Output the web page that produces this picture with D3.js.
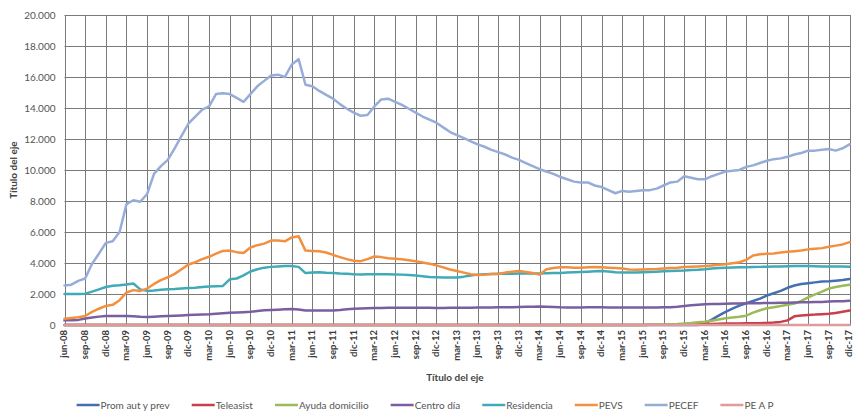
<!DOCTYPE html>
<html><head><meta charset="utf-8">
<script src="https://cdn.jsdelivr.net/npm/d3@7"></script>
<style>
html,body{margin:0;padding:0;background:#fff;}
svg{display:block;font-family:Lato,"Open Sans",sans-serif;}
</style></head>
<body><svg id="chart" width="854" height="412"></svg>
<script>
const categories = [
"jun-08","jul-08","ago-08","sep-08","oct-08","nov-08","dic-08",
"ene-09","feb-09","mar-09","abr-09","may-09","jun-09","jul-09","ago-09","sep-09","oct-09","nov-09","dic-09",
"ene-10","feb-10","mar-10","abr-10","may-10","jun-10","jul-10","ago-10","sep-10","oct-10","nov-10","dic-10",
"ene-11","feb-11","mar-11","abr-11","may-11","jun-11","jul-11","ago-11","sep-11","oct-11","nov-11","dic-11",
"ene-12","feb-12","mar-12","abr-12","may-12","jun-12","jul-12","ago-12","sep-12","oct-12","nov-12","dic-12",
"ene-13","feb-13","mar-13","abr-13","may-13","jun-13","jul-13","ago-13","sep-13","oct-13","nov-13","dic-13",
"ene-14","feb-14","mar-14","abr-14","may-14","jun-14","jul-14","ago-14","sep-14","oct-14","nov-14","dic-14",
"ene-15","feb-15","mar-15","abr-15","may-15","jun-15","jul-15","ago-15","sep-15","oct-15","nov-15","dic-15",
"ene-16","feb-16","mar-16","abr-16","may-16","jun-16","jul-16","ago-16","sep-16","oct-16","nov-16","dic-16",
"ene-17","feb-17","mar-17","abr-17","may-17","jun-17","jul-17","ago-17","sep-17","oct-17","nov-17","dic-17"];

const tickLabels = ["jun-08","sep-08","dic-08","mar-09","jun-09","sep-09","dic-09","mar-10","jun-10","sep-10","dic-10",
"mar-11","jun-11","sep-11","dic-11","mar-12","jun-12","sep-12","dic-12","mar-13","jun-13","sep-13","dic-13",
"mar-14","jun-14","sep-14","dic-14","mar-15","jun-15","sep-15","dic-15","mar-16","jun-16","sep-16","dic-16",
"mar-17","jun-17","sep-17","dic-17"];

const yTicks = [0,2000,4000,6000,8000,10000,12000,14000,16000,18000,20000];

const seriesNames = ["Prom aut y prev","Teleasist","Ayuda domicilio","Centro día","Residencia","PEVS","PECEF","PE A P"];

const promAutYPrev = [
0,0,0,0,0,0,0,0,0,0, 0,0,0,0,0,0,0,0,0,0, 0,0,0,0,0,0,0,0,0,0, 0,0,0,0,0,0,0,0,0,0,
0,0,0,0,0,0,0,0,0,0, 0,0,0,0,0,0,0,0,0,0, 0,0,0,0,0,0,0,0,0,0, 0,0,0,0,0,0,0,0,0,0,
0,0,0,0,0,0,0,0,0,0,
0,0,0,100,350,600,850,1050,1250,1400,
1550,1700,1900,2050,2200,2400,2550,2650,2700,2750,
2800,2820,2860,2900,2970];

const teleasist = [
0,0,0,0,0,0,0,0,0,0, 0,0,0,0,0,0,0,0,0,0, 0,0,0,0,0,0,0,0,0,0, 0,0,0,0,0,0,0,0,0,0,
0,0,0,0,0,0,0,0,0,0, 0,0,0,0,0,0,0,0,0,0, 0,0,0,0,0,0,0,0,0,0, 0,0,0,0,0,0,0,0,0,0,
0,0,0,0,0,10,20,20,30,30,
40,40,50,60,70,80,90,100,100,110,
120,120,130,160,200,300,560,620,650,670,
700,720,780,850,930];

const ayudaDomicilio = [
0,0,0,0,0,0,0,0,0,0, 0,0,0,0,0,0,0,0,0,0, 0,0,0,0,0,0,0,0,0,0, 0,0,0,0,0,0,0,0,0,0,
0,0,0,0,0,0,0,0,0,0, 0,0,0,0,0,0,0,0,0,0, 0,0,0,0,0,0,0,0,0,0, 0,0,0,0,0,0,0,0,0,0,
0,0,0,0,0,20,30,40,50,70,
100,130,170,210,280,350,430,480,530,600,
800,950,1080,1150,1230,1300,1380,1550,1780,1980,
2150,2350,2450,2530,2600];

const centroDia = [
300,310,330,420,480,540,580,580,580,580,
570,540,520,540,560,580,600,620,640,660,
680,700,730,760,790,810,830,850,900,950,
970,990,1010,1030,1000,940,930,930,930,940,
970,1020,1050,1070,1080,1090,1100,1110,1120,1120,
1120,1120,1120,1110,1100,1100,1110,1120,1120,1120,
1130,1130,1130,1140,1140,1150,1160,1170,1180,1190,
1180,1160,1140,1130,1130,1130,1140,1150,1140,1130,
1130,1130,1130,1130,1130,1130,1130,1140,1150,1170,
1220,1270,1310,1340,1350,1360,1370,1380,1390,1400,
1410,1410,1420,1420,1430,1440,1450,1460,1470,1480,
1490,1510,1530,1540,1560];

const residencia = [
2000,2000,2000,2020,2150,2300,2450,2530,2560,2620,
2680,2300,2200,2230,2270,2300,2320,2350,2380,2400,
2450,2480,2500,2520,2950,3000,3200,3450,3600,3700,
3750,3780,3800,3800,3750,3350,3380,3400,3370,3350,
3320,3300,3270,3260,3270,3270,3280,3270,3260,3250,
3230,3200,3150,3100,3080,3060,3060,3070,3120,3200,
3250,3270,3290,3300,3300,3310,3320,3320,3330,3330,
3340,3350,3360,3380,3400,3420,3440,3460,3480,3450,
3400,3380,3380,3380,3400,3420,3440,3460,3480,3500,
3520,3550,3570,3600,3640,3670,3700,3710,3720,3730,
3740,3750,3760,3770,3780,3790,3800,3800,3800,3790,
3780,3780,3770,3770,3760];

const pevs = [
400,450,500,580,850,1050,1230,1300,1600,2100,
2250,2200,2350,2650,2900,3080,3300,3600,3900,4050,
4250,4400,4600,4780,4800,4700,4650,5000,5150,5250,
5450,5450,5400,5650,5720,4800,4780,4760,4680,4520,
4380,4250,4150,4120,4250,4420,4380,4300,4270,4240,
4180,4120,4030,3950,3850,3720,3580,3480,3380,3280,
3220,3250,3290,3290,3380,3430,3480,3420,3350,3250,
3600,3680,3720,3720,3700,3700,3720,3740,3720,3700,
3680,3650,3580,3560,3580,3600,3620,3650,3680,3700,
3740,3760,3780,3800,3840,3880,3920,3980,4050,4200,
4480,4560,4600,4620,4680,4720,4760,4800,4880,4920,
4960,5050,5120,5200,5350];

const pecef = [
2550,2600,2850,3000,3950,4600,5300,5400,6000,7800,
8050,7950,8450,9750,10250,10650,11400,12200,13000,13450,
13900,14100,14900,14950,14900,14650,14400,14900,15400,15750,
16100,16150,16000,16800,17150,15500,15400,15100,14850,14600,
14250,13950,13700,13500,13550,14100,14550,14600,14400,14200,
13950,13700,13450,13250,13050,12750,12450,12250,12050,11850,
11650,11500,11300,11150,11000,10800,10650,10450,10250,10050,
9900,9750,9550,9400,9250,9200,9200,9000,8900,8700,
8500,8650,8600,8650,8700,8700,8800,9000,9200,9250,
9600,9500,9400,9400,9600,9750,9900,9950,10000,10200,
10300,10450,10600,10700,10750,10850,11000,11100,11250,11250,
11300,11350,11250,11400,11650];

const peAP = [
0,0,0,0,0,0,0,0,0,0, 0,0,0,0,0,0,0,0,0,0, 0,0,0,0,0,0,0,0,0,0, 0,0,0,0,0,0,0,0,0,0,
0,0,0,0,0,0,0,0,0,0, 0,0,0,0,0,0,0,0,0,0, 0,0,0,0,0,0,0,0,0,0, 0,0,0,0,0,0,0,0,0,0,
0,0,0,0,0,0,0,0,0,0, 0,0,0,0,0,0,0,0,0,0, 0,0,0,0,0,0,0,0,0,0,
0,0,0,0,0];

const colors = ["#4470B0","#C8404A","#9BBB59","#7A5FA0","#40AAB8","#F3903F","#97ADD8","#DE9A9C"];
const seriesValues = [promAutYPrev, teleasist, ayudaDomicilio, centroDia, residencia, pevs, pecef, peAP];

const svg = d3.select("#chart");
const L = 64.5, R = 849.5, T = 15, B = 325;
const x = d3.scalePoint().domain(categories).range([L, R]);
const y = d3.scaleLinear().domain([0, 20000]).range([B, T]);
const loc = d3.formatLocale({decimal: ",", thousands: ".", grouping: [3], currency: ["", "€"]});
const fmt = loc.format(",.0f");

// gridlines
const grid = svg.append("g");
grid.selectAll("line.h").data(yTicks).join("line")
  .attr("x1", L).attr("x2", R + 1).attr("y1", d => Math.round(y(d)) + 0.5).attr("y2", d => Math.round(y(d)) + 0.5)
  .attr("stroke", "#7a7a7a").attr("stroke-width", 1);
grid.selectAll("line.v").data(tickLabels).join("line")
  .attr("x1", d => Math.round(x(d)) + 0.5).attr("x2", d => Math.round(x(d)) + 0.5)
  .attr("y1", T).attr("y2", B)
  .attr("stroke", "#7a7a7a").attr("stroke-width", 1);

// y axis
const yAxis = svg.append("g").attr("transform", `translate(${L},0)`)
  .call(d3.axisLeft(y).tickValues(yTicks).tickFormat(fmt).tickSize(0).tickPadding(9));
yAxis.select(".domain").remove();
yAxis.selectAll("text").attr("font-size", "10px").attr("fill", "#555").attr("font-family", "Lato, sans-serif");

// x axis
const xAxis = svg.append("g").attr("transform", `translate(0,${B})`)
  .call(d3.axisBottom(x).tickValues(tickLabels).tickSize(0));
xAxis.select(".domain").remove();
xAxis.selectAll("text")
  .attr("transform", "rotate(-90)")
  .attr("x", -5).attr("y", -1).attr("dy", "0.35em")
  .style("text-anchor", "end")
  .attr("font-size", "9.5px").attr("font-weight", "bold").attr("fill", "#3a3a3a")
  .attr("font-family", "Lato, sans-serif");

// lines
const line = d3.line().x((d, i) => x(categories[i])).y(d => y(d));
svg.append("g").selectAll("path").data(seriesValues).join("path")
  .attr("d", d => line(d))
  .attr("fill", "none")
  .attr("stroke", (d, i) => colors[i])
  .attr("stroke-width", 2.5)
  .attr("stroke-linejoin", "round")
  .attr("stroke-linecap", "round");

// axis titles
svg.append("text").attr("x", 455).attr("y", 381).attr("text-anchor", "middle")
  .attr("font-size", "10px").attr("font-weight", "bold").attr("fill", "#444").text("Título del eje");
svg.append("text").attr("transform", "translate(17,170) rotate(-90)").attr("text-anchor", "middle")
  .attr("font-size", "10px").attr("font-weight", "bold").attr("fill", "#444").text("Título del eje");

// legend
const lg = svg.append("g");
const legendY = 405;
let items = seriesNames.map((n, i) => ({name: n, color: colors[i]}));
const swatch = 23, gap1 = 1, gap2 = 22;
const tmp = lg.append("text").attr("font-size", "10px");
items.forEach(it => { tmp.text(it.name); it.w = tmp.node().getComputedTextLength(); });
tmp.remove();
const total = d3.sum(items, it => swatch + gap1 + it.w) + gap2 * (items.length - 1);
let cx = 425 - total / 2;
items.forEach(it => {
  lg.append("line").attr("x1", cx).attr("x2", cx + swatch).attr("y1", legendY).attr("y2", legendY)
    .attr("stroke", it.color).attr("stroke-width", 2.5);
  lg.append("text").attr("x", cx + swatch + gap1).attr("y", legendY).attr("dy", "0.35em")
    .attr("font-size", "10px").attr("fill", "#555").text(it.name);
  cx += swatch + gap1 + it.w + gap2;
});
</script>
</body></html>
